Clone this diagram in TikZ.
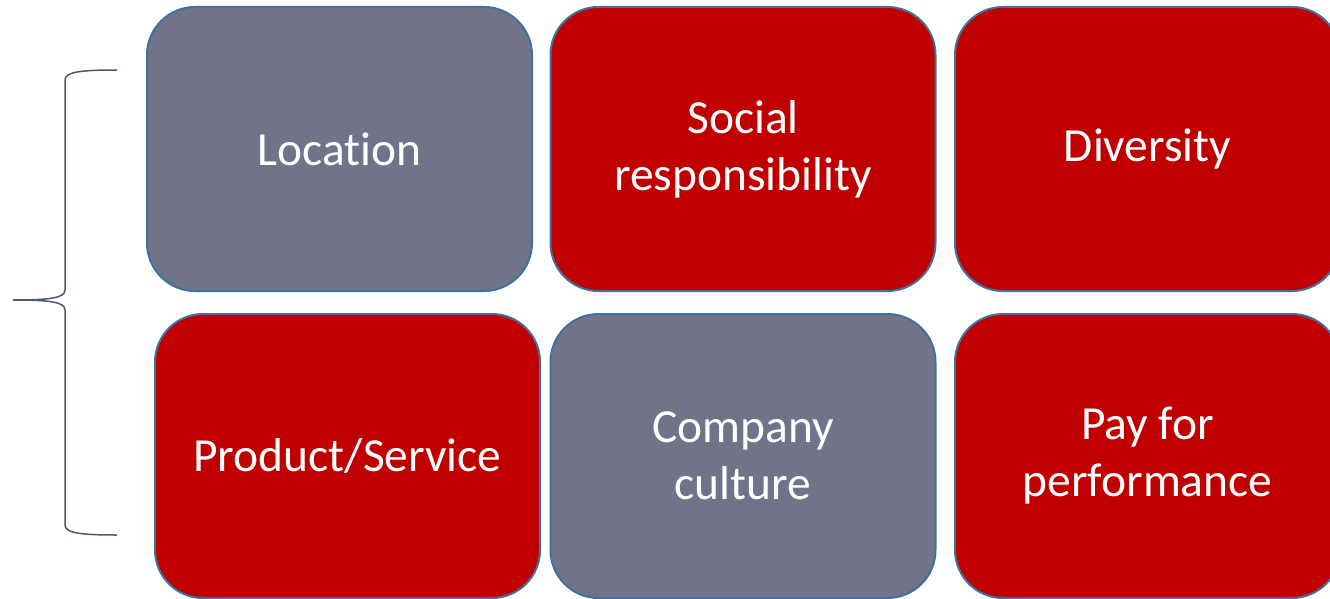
\documentclass[tikz,border=0pt]{standalone}
\usepackage{fontspec}
\setmainfont{Carlito}[Ligatures=NoCommon]
\usepackage{xcolor}
\definecolor{tilered}{HTML}{C00000}
\definecolor{tilegrey}{HTML}{717389}
\definecolor{tileedge}{HTML}{41719C}
\definecolor{braceline}{HTML}{4A5A70}
\tikzset{
  tile/.style={draw=tileedge, line width=2pt, rounded corners=48pt,
    minimum width=385pt, minimum height=284pt, text=white,
    align=center, font=\fontsize{47.5}{57}\selectfont},
  redtile/.style={tile, fill=tilered},
  greytile/.style={tile, fill=tilegrey}
}
\begin{document}
\begin{tikzpicture}[x=1pt,y=-1pt]
                \useasboundingbox (0,0) rectangle (1330,599);
                \clip (0,0) rectangle (1330,599);
                \node[greytile] (loc) at (339.5,149) {Location};
                \node[redtile] (soc) at (743,149) {Social\\responsibility};
                \node[redtile] (div) at (1147.5,149) {Diversity};
                \node[redtile] (prod) at (347.5,456) {Product/Service};
                \node[greytile] (cult) at (743,456) {Company\\culture};
                \node[redtile] (pay) at (1147.5,456) {Pay for\\performance};
                \draw[braceline, line width=1.5pt]
                (117,70) .. controls (80,70) and (65,72) .. (65,80)
                -- (65,290) .. controls (65,298) and (50,300) .. (13,300)
                .. controls (50,300) and (65,302) .. (65,310)
                -- (65,525) .. controls (65,533) and (80,535) .. (117,535);
            \end{tikzpicture}
\end{document}
